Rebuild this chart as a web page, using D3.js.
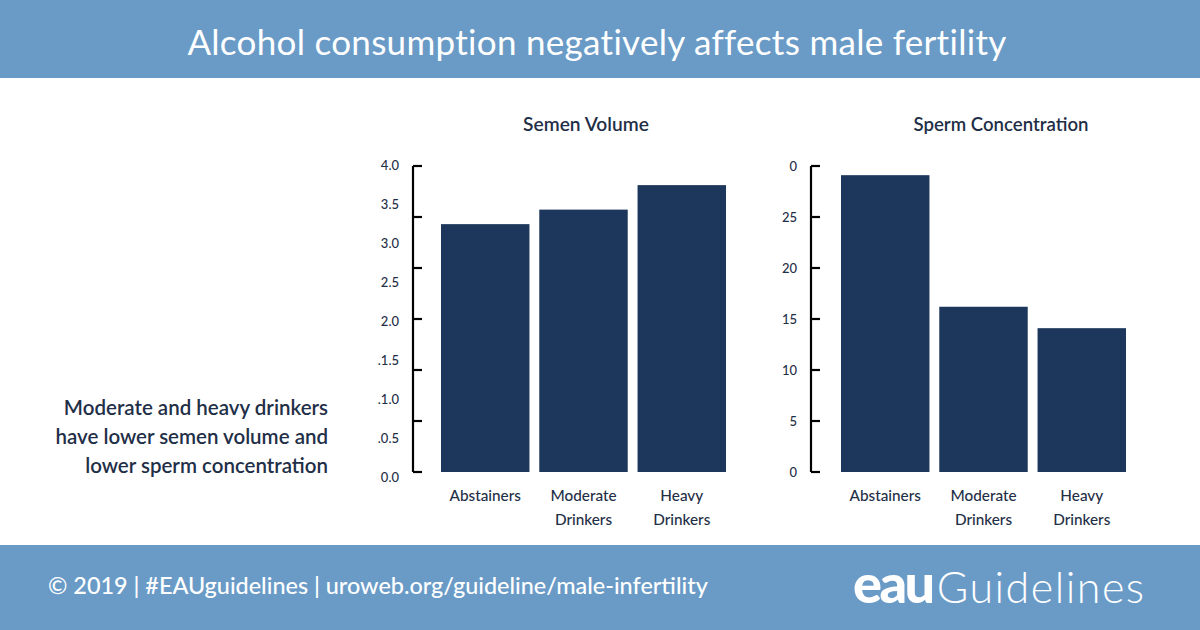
<!DOCTYPE html>
<html><head><meta charset="utf-8">
<script src="https://cdn.jsdelivr.net/npm/d3@7"></script>
<style>html,body{margin:0;padding:0;background:#fff;} svg{display:block;}</style>
</head><body>
<script>
const categories = ["Abstainers", "Moderate Drinkers", "Heavy Drinkers"];
const semenVolume = [3.24, 3.43, 3.75];
const spermConcentration = [29.1, 16.2, 14.1];
const volumeTickLabels = ["4.0", "3.5", "3.0", "2.5", "2.0", ".1.5", ".1.0", ".0.5", "0.0"];
const volumeTickCount = 7;
const concTickValues = [0, 5, 10, 15, 20, 25, 30];
const concTickLabels = ["0", "5", "10", "15", "20", "25", "0"];
const title = "Alcohol consumption negatively affects male fertility";
const footer = "© 2019 | #EAUguidelines | uroweb.org/guideline/male-infertility";
const sideText = ["Moderate and heavy drinkers", "have lower semen volume and", "lower sperm concentration"];

const W = 1200, H = 630;
const blue = "#6a9bc7", navy = "#1c365c", txt = "#1f2f47";
const font = "Lato, 'Open Sans', sans-serif";
const svg = d3.select("body").append("svg").attr("width", W).attr("height", H);

svg.append("rect").attr("x",0).attr("y",0).attr("width",W).attr("height",78).attr("fill",blue);
svg.append("text").attr("x",597).attr("y",55).attr("text-anchor","middle").attr("fill","#fff")
  .attr("font-family",font).attr("font-size",35).attr("letter-spacing",0.3).text(title);
svg.append("rect").attr("x",0).attr("y",545).attr("width",W).attr("height",85).attr("fill",blue);
svg.append("text").attr("x",48).attr("y",594).attr("fill","#fff").attr("font-family",font)
  .attr("font-size",23.4).attr("font-weight",500).text(footer);
const logo = svg.append("text").attr("x",853).attr("y",603).attr("fill","#fff").attr("font-family",font);
logo.append("tspan").attr("font-size",54).attr("font-weight",900).attr("letter-spacing",-2.5).text("eau");
logo.append("tspan").attr("font-size",43).attr("font-weight",300).attr("letter-spacing",1.5).attr("dx",4).text("Guidelines");

const side = svg.append("g");
sideText.forEach((t,i)=> side.append("text").attr("x",328).attr("y",415+i*29).attr("text-anchor","end")
  .attr("fill",txt).attr("font-family",font).attr("font-size",20.5).attr("font-weight",600).text(t));

const y0 = 472, y1 = 166;

function drawChart(opts){
  const g = svg.append("g");
  const x = d3.scaleBand().domain(categories).range(opts.xr).paddingInner(0.1).paddingOuter(0);
  const y = d3.scaleLinear().domain([0, opts.max]).range([y0, y1]);
  g.selectAll("rect.bar").data(opts.values).join("rect").attr("class","bar")
    .attr("x",(d,i)=>x(categories[i])).attr("width",x.bandwidth())
    .attr("y",d=>y(d)).attr("height",d=>y0-y(d)).attr("fill",navy);
  g.append("line").attr("x1",opts.ax).attr("x2",opts.ax).attr("y1",y1).attr("y2",y0)
    .attr("stroke","#000").attr("stroke-width",2.2);
  g.selectAll("line.tick").data(opts.tickVals).join("line").attr("class","tick")
    .attr("x1",opts.ax).attr("x2",opts.ax+9).attr("y1",d=>y(d)).attr("y2",d=>y(d))
    .attr("stroke","#000").attr("stroke-width",2.2);
  g.selectAll("text.tl").data(opts.labels).join("text").attr("class","tl")
    .attr("x",opts.ax-14).attr("y",(d,i)=>opts.labelY(d,i)).attr("dy","0.35em")
    .attr("text-anchor","end").attr("fill",txt).attr("font-family",font).attr("font-size",13)
    .attr("font-weight",500).text(d=>d);
  categories.forEach(c=>{
    const words = c.split(" ");
    words.forEach((w,i)=> g.append("text").attr("x",x(c)+x.bandwidth()/2).attr("y",501+i*24)
      .attr("text-anchor","middle").attr("fill",txt).attr("font-family",font).attr("font-size",15.3)
      .attr("font-weight",500).text(w));
  });
  g.append("text").attr("x",opts.tx).attr("y",131).attr("text-anchor","middle").attr("fill",txt)
    .attr("font-family",font).attr("font-size",opts.ts).attr("font-weight",600).text(opts.title);
}

const volLabelScale = d3.scalePoint().domain(volumeTickLabels).range([165, 477]);
drawChart({
  xr:[441,726], ax:413, max:4, values:semenVolume,
  tickVals:d3.range(volumeTickCount).map(i=>i*4/(volumeTickCount-1)),
  labels:volumeTickLabels, labelY:d=>volLabelScale(d), tx:586, ts:19.2, title:"Semen Volume"
});
const yc = d3.scaleLinear().domain([0,30]).range([y0,y1]);
drawChart({
  xr:[841,1126], ax:811, max:30, values:spermConcentration,
  tickVals:concTickValues, labels:concTickLabels, labelY:(d,i)=>yc(concTickValues[i]),
  tx:1001, ts:18.6, title:"Sperm Concentration"
});
</script>
</body></html>
